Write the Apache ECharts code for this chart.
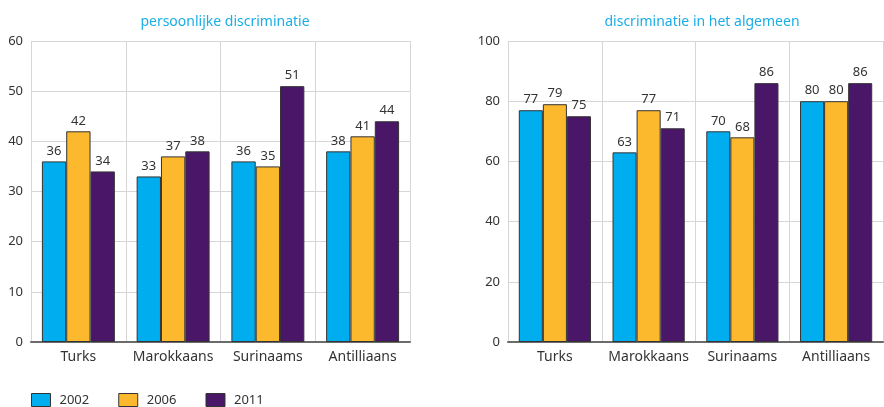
<!DOCTYPE html>
<html><head><meta charset="utf-8">
<script src="https://cdn.jsdelivr.net/npm/echarts@6/dist/echarts.min.js"></script>
<style>html,body{margin:0;padding:0;background:#fff}#c{width:884px;height:407px}</style>
</head><body><div id="c"></div>
<script>
const categories = ['Turks', 'Marokkaans', 'Surinaams', 'Antilliaans'];
const years = ['2002', '2006', '2011'];
const persoonlijk2002 = [36, 33, 36, 38];
const persoonlijk2006 = [42, 37, 35, 41];
const persoonlijk2011 = [34, 38, 51, 44];
const algemeen2002 = [77, 63, 70, 80];
const algemeen2006 = [79, 77, 68, 80];
const algemeen2011 = [75, 71, 86, 86];
const titles = ['persoonlijke discriminatie', 'discriminatie in het algemeen'];
const colors = ['#00aeef', '#fdb92e', '#4a1768'];
const font = 'Noto Sans';

const chart = echarts.init(document.getElementById('c'));
const catAxis = (gi) => ({
  type: 'category', gridIndex: gi, data: categories,
  axisLine: {lineStyle: {color: '#6b6b6b', width: 2}},
  axisTick: {alignWithLabel: true, interval: 0, length: 6, lineStyle: {color: '#6b6b6b', width: 2}},
  axisLabel: {interval: 0, color: '#333', fontSize: 14, fontFamily: font, margin: 8},
  splitLine: {show: true, interval: 0, lineStyle: {color: '#d6d6d6', width: 1}}
});
const valAxis = (gi, max, interval) => ({
  type: 'value', gridIndex: gi, min: 0, max: max, interval: interval,
  axisLine: {show: false}, axisTick: {show: false},
  axisLabel: {color: '#333', fontSize: 13, fontFamily: font, margin: 8},
  splitLine: {lineStyle: {color: '#d6d6d6', width: 1}}
});
const mk = (name, data, i, gi) => ({
  name: name, type: 'bar', data: data, xAxisIndex: gi, yAxisIndex: gi,
  barGap: '0%', barCategoryGap: '23%',
  itemStyle: {color: colors[i], borderColor: '#333', borderWidth: 1},
  label: {show: true, position: 'top', distance: 4, color: '#333', fontSize: 13, fontFamily: font}
});
chart.setOption({
  animation: false,
  textStyle: {fontFamily: font},
  title: [
    {text: titles[0], left: 220, top: 10, textAlign: 'center', textStyle: {color: '#1aaee6', fontSize: 14, fontWeight: 'normal', fontFamily: font}},
    {text: titles[1], left: 697, top: 10, textAlign: 'center', textStyle: {color: '#1aaee6', fontSize: 14, fontWeight: 'normal', fontFamily: font}}
  ],
  legend: {
    data: years, left: 26, top: 388, itemWidth: 19, itemHeight: 13, itemGap: 29, icon: 'rect',
    textStyle: {color: '#333', fontSize: 13, fontFamily: font, padding: [0, 0, 0, 4]},
    itemStyle: {borderColor: '#333', borderWidth: 1}
  },
  grid: [
    {left: 31, top: 41, width: 379, height: 301},
    {left: 508, top: 41, width: 375, height: 301}
  ],
  xAxis: [catAxis(0), catAxis(1)],
  yAxis: [valAxis(0, 60, 10), valAxis(1, 100, 20)],
  series: [
    mk(years[0], persoonlijk2002, 0, 0),
    mk(years[1], persoonlijk2006, 1, 0),
    mk(years[2], persoonlijk2011, 2, 0),
    mk(years[0], algemeen2002, 0, 1),
    mk(years[1], algemeen2006, 1, 1),
    mk(years[2], algemeen2011, 2, 1)
  ]
});
</script></body></html>
